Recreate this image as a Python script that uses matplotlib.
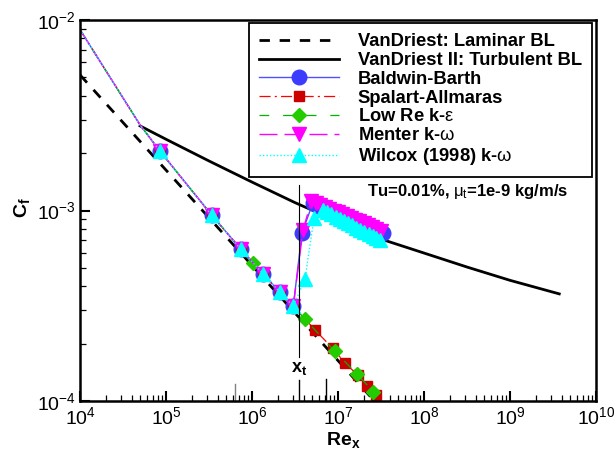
import matplotlib
matplotlib.use("Agg")
import matplotlib.pyplot as plt

plt.rcParams['font.family'] = ['Liberation Sans', 'DejaVu Sans']
plt.rcParams['mathtext.fontset'] = 'custom'
plt.rcParams['mathtext.rm'] = 'Liberation Sans'
plt.rcParams['mathtext.it'] = 'Liberation Sans'
plt.rcParams['mathtext.bf'] = 'Liberation Sans:bold'
plt.rcParams['lines.scale_dashes'] = False

# ---------------- data ----------------
lam_re = [1.0e4, 1.0e5, 1.0e6, 1.0e7, 2.65e7]
lam_cf = [5.15e-3, 1.63e-3, 5.15e-4, 1.63e-4, 1.0e-4]

turb_re = [4.99e4, 1.0e5, 3.16e5, 1.0e6, 3.16e6, 1.0e7, 3.16e7, 1.0e8, 3.16e8, 1.0e9, 3.74e9]
turb_cf = [2.78e-3, 2.366e-3, 1.82e-3, 1.41e-3, 1.10e-3, 8.75e-4, 7.08e-4, 5.98e-4, 5.05e-4, 4.30e-4, 3.65e-4]

# common laminar part of the models (first two points carry no marker)
mod_lam_re = [1.0e4, 5.0e4, 8.5e4, 3.4e5, 7.45e5, 1.35e6, 2.12e6, 3.02e6]
mod_lam_cf = [8.9e-3, 2.81e-3, 2.05e-3, 9.46e-4, 6.25e-4, 4.64e-4, 3.72e-4, 3.15e-4]

bb_re = mod_lam_re + [3.81e6, 5.1e6, 5.7e6, 6.4e6, 7.2e6, 8.1e6, 9.1e6, 1.02e7, 1.14e7, 1.28e7,
                      1.43e7, 1.6e7, 1.8e7, 2.0e7, 2.25e7, 2.5e7, 2.8e7, 3.3e7]
bb_cf = mod_lam_cf + [7.62e-4, 1.094e-3, 1.071e-3, 1.048e-3, 1.024e-3, 1.002e-3, 9.79e-4, 9.58e-4,
                      9.37e-4, 9.17e-4, 8.97e-4, 8.78e-4, 8.58e-4, 8.41e-4, 8.22e-4, 8.05e-4,
                      7.88e-4, 7.64e-4]

sa_re = mod_lam_re + [5.41e6, 8.67e6, 1.21e7, 1.69e7, 2.19e7, 2.77e7]
sa_cf = mod_lam_cf + [2.36e-4, 1.89e-4, 1.58e-4, 1.37e-4, 1.20e-4, 1.07e-4]

ke_re = [1.0e4, 5.0e4, 8.5e4, 3.4e5, 1.02e6, 4.13e6, 9.22e6, 1.65e7, 2.57e7]
ke_cf = [8.9e-3, 2.81e-3, 2.05e-3, 9.46e-4, 5.32e-4, 2.69e-4, 1.82e-4, 1.39e-4, 1.12e-4]

mt_re = mod_lam_re + [3.92e6, 4.9e6, 5.5e6, 6.2e6, 7.0e6, 7.9e6, 8.9e6, 1.0e7, 1.12e7, 1.26e7,
                      1.41e7, 1.58e7, 1.77e7, 1.98e7, 2.22e7, 2.48e7, 2.78e7, 3.2e7]
mt_cf = mod_lam_cf + [7.9e-4, 1.122e-3, 1.097e-3, 1.072e-3, 1.047e-3, 1.023e-3, 1.0e-3, 9.78e-4,
                      9.57e-4, 9.35e-4, 9.15e-4, 8.95e-4, 8.76e-4, 8.57e-4, 8.38e-4, 8.2e-4,
                      8.02e-4, 7.81e-4]

wx_re = mod_lam_re + [4.13e6, 5.26e6, 6.7e6, 7.5e6, 8.4e6, 9.4e6, 1.05e7, 1.17e7, 1.31e7, 1.46e7,
                      1.63e7, 1.82e7, 2.03e7, 2.27e7, 2.54e7, 2.8e7, 3.08e7]
wx_cf = mod_lam_cf + [4.36e-4, 9.14e-4, 1.007e-3, 9.8e-4, 9.54e-4, 9.29e-4, 9.04e-4, 8.81e-4,
                      8.57e-4, 8.35e-4, 8.13e-4, 7.92e-4, 7.72e-4, 7.52e-4, 7.32e-4, 7.15e-4,
                      6.99e-4]

xt_re = 3.56e6
xt_line_cf = [1.36e-3, 1.70e-4]
mark_re = [6.4e5, 3.56e6, 7.24e6]
mark_top = [1.23e-4, 1.29e-4, 1.30e-4]
mark_col = ['#808080', 'black', 'black']

labels = ['VanDriest: Laminar BL', 'VanDriest II: Turbulent BL', 'Baldwin-Barth',
          'Spalart-Allmaras', r'Low Re k-$\varepsilon$', r'Menter k-$\omega$',
          r'Wilcox (1998) k-$\omega$']

# ---------------- figure ----------------
fig = plt.figure(figsize=(6.16, 4.57), dpi=100)
ax = fig.add_axes([80 / 616, 56 / 457, 516 / 616, 381 / 457])
ax.set_xscale('log')
ax.set_yscale('log')
ax.set_xlim(1e4, 1e10)
ax.set_ylim(1e-4, 1e-2)

ax.plot(lam_re, lam_cf, color='black', lw=2.0, dashes=(7.5, 7), label=labels[0])
ax.plot(turb_re, turb_cf, color='black', lw=2.0, label=labels[1])

ax.plot(bb_re, bb_cf, color='#5050ff', lw=1.0, marker='o', ms=10.5, mfc='#3c3cff',
        mec='#3c3cff', markevery=list(range(2, len(bb_re))), label=labels[2])
ax.plot(sa_re, sa_cf, color='#ff0000', lw=0.9, dashes=(8, 3, 1.5, 3), marker='s', ms=7.5,
        mfc='#cc0000', mec='#cc0000', markevery=list(range(2, len(sa_re))), label=labels[3])
ax.plot(ke_re, ke_cf, color='#00b400', lw=0.9, dashes=(7, 10), marker='D', ms=7.5,
        mfc='#22cc00', mec='#22cc00', markevery=[4, 5, 6, 7, 8], label=labels[4])
ax.plot(mt_re, mt_cf, color='#ff00ff', lw=1.0, dashes=(13, 5), marker='v', ms=9.5,
        mfc='#ff00ff', mec='#ff00ff', markevery=list(range(2, len(mt_re))), label=labels[5])
ax.plot(wx_re, wx_cf, color='#00ffff', lw=1.0, dashes=(1, 1.5), marker='^', ms=9.5,
        mfc='#00ffff', mec='#00ffff', markevery=list(range(2, len(wx_re))), label=labels[6])

# transition marker
ax.plot([xt_re, xt_re], xt_line_cf, color='black', lw=0.8)
ax.text(xt_re, 1.49e-4, r'$\mathbf{x}_\mathbf{t}$', ha='center', va='center', fontsize=13)
for r, t, c in zip(mark_re, mark_top, mark_col):
    ax.plot([r, r], [1e-4, t], color=c, lw=1.0, clip_on=False)

ax.text(0.751, 0.551, r'Tu=0.01%, $\mu_t$=1e-9 kg/m/s', transform=ax.transAxes,
        ha='center', va='center', fontsize=12, fontweight='bold')

# axes styling
for s in ax.spines.values():
    s.set_linewidth(1.8)
ax.tick_params(which='both', direction='in', top=False, right=False, labelsize=14)
ax.tick_params(which='major', length=7.5, width=1.5, pad=4)
ax.tick_params(which='minor', length=4.3, width=0.9)
ax.tick_params(axis='y', which='major', pad=3)

fig.text(343 / 616, 1 - 440 / 457, r'$\mathbf{Re}_\mathbf{x}$', ha='center', va='center', fontsize=14)
fig.text(22 / 616, 1 - 208 / 457, r'$\mathbf{C}_\mathbf{f}$', ha='center', va='center',
         fontsize=14, rotation=90)

leg = ax.legend(loc='upper right', bbox_to_anchor=(0.992, 0.992), borderaxespad=0,
                prop={'weight': 'bold', 'size': 13.2}, handlelength=4.4, handletextpad=1.0,
                labelspacing=0.1, borderpad=0.55, fancybox=False, framealpha=1,
                edgecolor='black', numpoints=1)
leg.get_frame().set_linewidth(1.3)

fig.savefig('out.png', dpi=100)
